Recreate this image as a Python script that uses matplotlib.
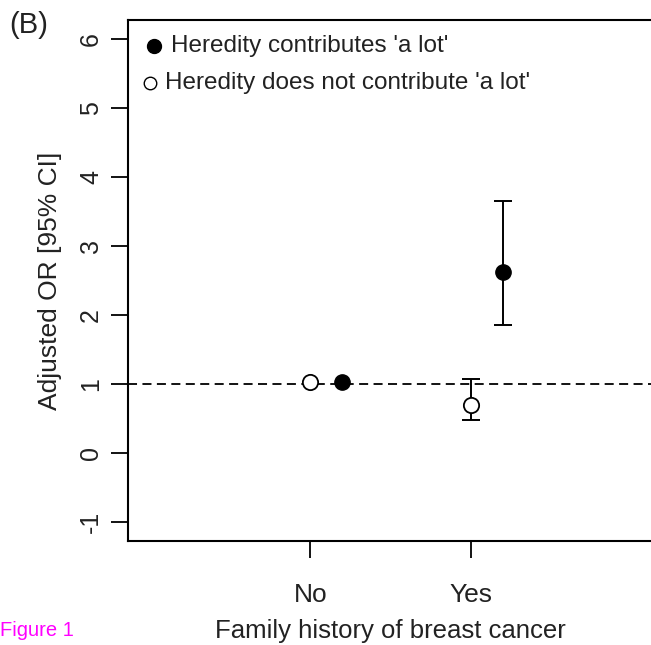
import matplotlib
matplotlib.use("Agg")
import matplotlib.pyplot as plt
import numpy as np

plt.rcParams['font.family'] = ['Liberation Sans', 'DejaVu Sans']

categories = ["No", "Yes"]
lot_or = [1.02, 2.62]
lot_lo = [1.02, 1.86]
lot_hi = [1.02, 3.65]
notlot_or = [1.02, 0.70]
notlot_lo = [1.02, 0.47]
notlot_hi = [1.02, 1.07]
yticks = [-1, 0, 1, 2, 3, 4, 5, 6]

fig = plt.figure(figsize=(6.51, 6.45), dpi=100)
ax = fig.add_axes([128/651, 1-541/645, 525/651, (541-20)/645])

x = np.arange(1, len(categories) + 1)
ax.axhline(1, color='black', linestyle=(0, (5, 3)), linewidth=1.3, zorder=1)

for i in range(len(categories)):
    if lot_hi[i] != lot_lo[i]:
        ax.errorbar(x[i] + 0.2, lot_or[i], yerr=[[lot_or[i]-lot_lo[i]], [lot_hi[i]-lot_or[i]]],
                    fmt='none', ecolor='black', elinewidth=1.4, capsize=6.5, capthick=1.4, zorder=2)
    if notlot_hi[i] != notlot_lo[i]:
        ax.errorbar(x[i], notlot_or[i], yerr=[[notlot_or[i]-notlot_lo[i]], [notlot_hi[i]-notlot_or[i]]],
                    fmt='none', ecolor='black', elinewidth=1.4, capsize=6.5, capthick=1.4, zorder=2)

ax.plot(x + 0.2, lot_or, 'o', color='black', markersize=11, zorder=3, linestyle='none')
ax.plot(x, notlot_or, 'o', markerfacecolor='white', markeredgecolor='black', markeredgewidth=1.3,
        markersize=11, zorder=3, linestyle='none')

ax.set_xlim(-0.14, 3.14)
ax.set_ylim(-1.28, 6.28)
ax.set_xticks(x)
ax.set_xticklabels(categories, fontsize=19, color='#222222')
ax.set_yticks(yticks)
ax.set_yticklabels([str(t) for t in yticks], fontsize=18, rotation=90, va='center', color='#222222')
ax.tick_params(axis='both', length=12, width=1.3, pad=6)
ax.tick_params(axis='x', pad=18)
for s in ax.spines.values():
    s.set_linewidth(1.5)
ax.set_xlabel("Family history of breast cancer", fontsize=18.5, color='#222222', labelpad=9)
ax.set_ylabel("Adjusted OR [95% CI]", fontsize=19, color='#222222', labelpad=12)

# legend drawn as markers and text
ax.plot([0.02], [5.9], 'o', color='black', markersize=10)
ax.text(0.13, 5.9, "Heredity contributes 'a lot'", fontsize=17.5, va='center', ha='left', color='#222222')
ax.plot([0.0], [5.36], 'o', markerfacecolor='white', markeredgecolor='black', markersize=9)
ax.text(0.09, 5.36, "Heredity does not contribute 'a lot'", fontsize=17.5, va='center', ha='left', color='#222222')

fig.text(9/651, 1-25/645, "(B)", fontsize=21, va='center', ha='left', color='#222222')
fig.text(0.5/651, 1-630/645, "Figure 1", fontsize=14.5, va='center', ha='left', color='#ff00ff')

fig.savefig("out.png", dpi=100)
